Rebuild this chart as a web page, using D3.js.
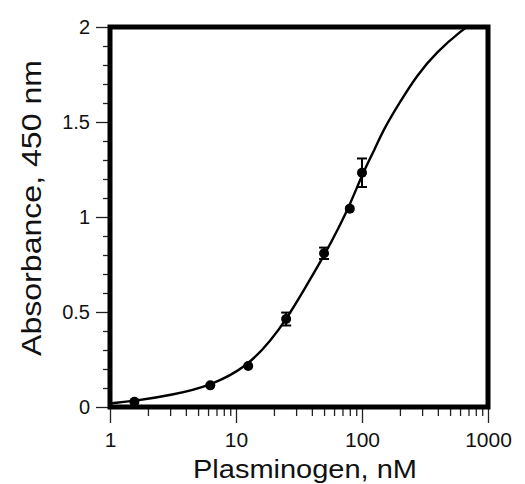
<!DOCTYPE html>
<html>
<head>
<meta charset="utf-8">
<script src="https://cdn.jsdelivr.net/npm/d3@7"></script>
<style>
  html, body { margin: 0; padding: 0; background: #fff; }
  svg { display: block; }
  text { font-family: "Liberation Sans", Arial, Helvetica, sans-serif; fill: #111; }
</style>
</head>
<body>
<svg id="chart" width="525" height="484"></svg>
<script>
// Measured points (Plasminogen, nM vs Absorbance at 450 nm)
const pointX = [1.5625, 6.25, 12.5, 25, 50, 80, 100];
const pointY = [0.028, 0.114, 0.216, 0.463, 0.809, 1.044, 1.233];
const pointErr = [0, 0, 0, 0.034, 0.03, 0, 0.075];

// Fitted curve
const curveX = [1, 1.58, 3.09, 6.33, 12.4, 19.2, 25.2, 34.2, 50.9, 64.9, 80.3, 102, 127, 148, 200, 272, 392, 637, 720];
const curveY = [0.019, 0.032, 0.063, 0.112, 0.215, 0.355, 0.465, 0.61, 0.805, 0.94, 1.065, 1.235, 1.36, 1.46, 1.605, 1.745, 1.87, 1.99, 2.01];

// Axis ticks
const xMajorTicks = [1, 10, 100, 1000];
const xTickLabels = ["1", "10", "100", "1000"];
const yMajorTicks = [0, 0.5, 1, 1.5, 2];
const yTickLabels = ["0", "0.5", "1", "1.5", "2"];

const xTitle = "Plasminogen, nM";
const yTitle = "Absorbance, 450 nm";

const svg = d3.select("#chart");
const mLeft = 110, mRight = 488, mTop = 27, mBottom = 407;

const x = d3.scaleLog().domain([1, 1000]).range([mLeft, mRight]);
const y = d3.scaleLinear().domain([0, 2]).range([mBottom, mTop]);

// minor ticks
const xMinor = [];
for (let d = 1; d < 1000; d *= 10) for (let k = 2; k <= 9; k++) xMinor.push(d * k);
const yMinor = d3.range(0, 21).map(i => i / 10).filter(v => !yMajorTicks.some(m => Math.abs(m - v) < 1e-9));

// clip
svg.append("defs").append("clipPath").attr("id", "plotclip")
  .append("rect").attr("x", mLeft).attr("y", mTop).attr("width", mRight - mLeft).attr("height", mBottom - mTop);

// Axes
const yAxisMinor = svg.append("g").attr("transform", `translate(${mLeft},0)`)
  .call(d3.axisLeft(y).tickValues(yMinor).tickSize(7).tickFormat(""));
const yAxis = svg.append("g").attr("transform", `translate(${mLeft},0)`)
  .call(d3.axisLeft(y).tickValues(yMajorTicks).tickSize(14).tickPadding(6)
    .tickFormat((d, i) => yTickLabels[i]));
const xAxisMinor = svg.append("g").attr("transform", `translate(0,${mBottom})`)
  .call(d3.axisBottom(x).tickValues(xMinor).tickSize(9).tickFormat(""));
const xAxis = svg.append("g").attr("transform", `translate(0,${mBottom})`)
  .call(d3.axisBottom(x).tickValues(xMajorTicks).tickSize(16).tickPadding(9)
    .tickFormat((d, i) => xTickLabels[i]));

[yAxisMinor, yAxis, xAxisMinor, xAxis].forEach(g => {
  g.select(".domain").remove();
  g.selectAll(".tick line").attr("stroke", "#222").attr("stroke-width", 1.3);
});
yAxis.selectAll("text").attr("font-size", 20).attr("dy", "0.33em")
  .style("font-family", '"Liberation Sans", Arial, sans-serif').attr("fill", "#111");
xAxis.selectAll("text").attr("font-size", 21)
  .style("font-family", '"Liberation Sans", Arial, sans-serif').attr("fill", "#111");

// Curve
const line = d3.line().x((d, i) => x(curveX[i])).y((d, i) => y(curveY[i])).curve(d3.curveBasis);
svg.append("path").attr("clip-path", "url(#plotclip)")
  .attr("d", line(curveX)).attr("fill", "none").attr("stroke", "#000").attr("stroke-width", 2.4);

// Error bars
const eb = svg.append("g").attr("stroke", "#000").attr("stroke-width", 2);
pointX.forEach((px, i) => {
  const e = pointErr[i];
  if (!e) return;
  const cx = x(px), y1 = y(pointY[i] + e), y2 = y(pointY[i] - e);
  eb.append("line").attr("x1", cx).attr("x2", cx).attr("y1", y1).attr("y2", y2);
  eb.append("line").attr("x1", cx - 5).attr("x2", cx + 5).attr("y1", y1).attr("y2", y1);
  eb.append("line").attr("x1", cx - 5).attr("x2", cx + 5).attr("y1", y2).attr("y2", y2);
});

// Points
svg.append("g").selectAll("circle").data(pointX).join("circle")
  .attr("cx", d => x(d)).attr("cy", (d, i) => y(pointY[i])).attr("r", 5).attr("fill", "#000");

// Frame
svg.append("rect").attr("x", mLeft).attr("y", mTop).attr("width", mRight - mLeft).attr("height", mBottom - mTop)
  .attr("fill", "none").attr("stroke", "#000").attr("stroke-width", 5);

// Titles
svg.append("text").attr("x", 305).attr("y", 478).attr("text-anchor", "middle")
  .attr("font-size", 25).attr("textLength", 224).attr("lengthAdjust", "spacingAndGlyphs").text(xTitle);
svg.append("text").attr("transform", "translate(41,208) rotate(-90)").attr("text-anchor", "middle")
  .attr("font-size", 27).attr("textLength", 296).attr("lengthAdjust", "spacingAndGlyphs").text(yTitle);
</script>
</body>
</html>
